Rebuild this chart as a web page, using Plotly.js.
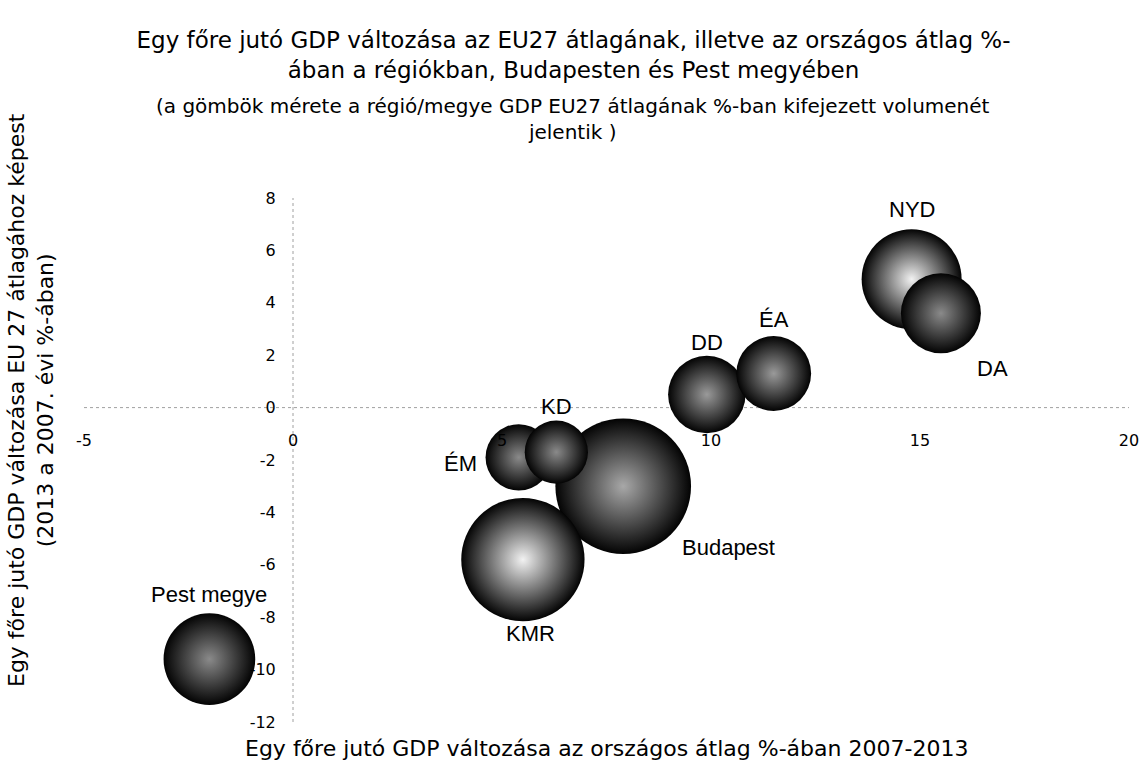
<!DOCTYPE html>
<html>
<head>
<meta charset="utf-8">
<script src="https://cdn.plot.ly/plotly-3.0.1.min.js"></script>
<style>
html,body{margin:0;padding:0;background:#fff;}
#chart{width:1147px;height:763px;}
</style>
</head>
<body>
<div id="chart"></div>
<script>
// ---- data (drawing order: later points are drawn on top) ----
const regions = ['Pest megye', 'Budapest', 'KMR', 'ÉM', 'KD', 'DD', 'ÉA', 'NYD', 'DA'];
const changeVsNational = [-2.0, 7.9, 5.5, 5.4, 6.3, 9.9, 11.5, 14.8, 15.5];   // x
const changeVsEU27 = [-9.6, -3.0, -5.8, -1.9, -1.7, 0.5, 1.3, 4.9, 3.6];       // y
const gdpVolume = [21, 46, 38, 11, 10, 15, 14, 25, 16];                          // bubble size
const xTickValues = [-5, 0, 5, 10, 15, 20];
const xTickLabels = ['-5', '0', '5', '10', '15', '20'];
const yTickValues = [-12, -10, -8, -6, -4, -2, 0, 2, 4, 6, 8];
const yTickLabels = ['-12', '-10', '-8', '-6', '-4', '-2', '0', '2', '4', '6', '8'];

// ---- styling ----
const xRange = [-5, 20];
const yRange = [-12, 8];
const labelShift = {            // pixel offsets of the data labels
  'Pest megye': [0, 65], 'Budapest': [105, -61], 'KMR': [8, -74], 'ÉM': [-58, -6],
  'KD': [0, 46], 'DD': [0, 52], 'ÉA': [0, 54], 'NYD': [0, 70], 'DA': [52, -55]
};
const highlight = {             // centre colour of each sphere's radial shading
  'Pest megye': '#8a8a8a', 'Budapest': '#a8a8a8', 'KMR': '#f2f2f2', 'ÉM': '#8a8a8a',
  'KD': '#8a8a8a', 'DD': '#9a9a9a', 'ÉA': '#9a9a9a', 'NYD': '#f2f2f2', 'DA': '#8a8a8a'
};
const FONT = '"DejaVu Sans", "Open Sans", sans-serif';

const trace = {
  type: 'scatter',
  mode: 'markers',
  x: changeVsNational,
  y: changeVsEU27,
  text: regions,
  hoverinfo: 'text+x+y',
  marker: {
    size: gdpVolume,
    sizemode: 'area',
    sizeref: 0.005,
    color: '#030303',
    opacity: 1,
    line: {width: 0},
    gradient: {type: 'radial', color: regions.map(r => highlight[r])}
  },
  showlegend: false
};

const labelAnnotations = regions.map((r, i) => ({
  x: changeVsNational[i], y: changeVsEU27[i], xref: 'x', yref: 'y',
  text: r, showarrow: false,
  xshift: labelShift[r][0], yshift: labelShift[r][1],
  font: {family: 'Liberation Sans, Arial, sans-serif', size: 22, color: '#000'}
}));

const x0pos = (0 - xRange[0]) / (xRange[1] - xRange[0]);
const y0pos = (0 - yRange[0]) / (yRange[1] - yRange[0]);

const layout = {
  width: 1147, height: 763,
  paper_bgcolor: '#fff', plot_bgcolor: '#fff',
  margin: {l: 84, r: 18, t: 198, b: 41},
  title: {
    text: 'Egy főre jutó GDP változása az EU27 átlagának, illetve az országos átlag %-<br>ában a régiókban, Budapesten és Pest megyében',
    font: {family: FONT, size: 23, color: '#000'},
    xref: 'container', x: 0.5, xanchor: 'center',
    yref: 'container', y: 0.937, yanchor: 'top'
  },
  xaxis: {
    range: xRange, anchor: 'free', position: y0pos,
    showgrid: false, zeroline: false, showline: false,
    tickmode: 'array', tickvals: xTickValues, ticktext: xTickLabels,
    ticks: 'outside', ticklen: 18, tickcolor: 'rgba(0,0,0,0)',
    tickfont: {family: FONT, size: 16, color: '#000'}
  },
  yaxis: {
    range: yRange, anchor: 'free', position: x0pos,
    showgrid: false, zeroline: false, showline: false,
    tickmode: 'array', tickvals: yTickValues, ticktext: yTickLabels,
    ticks: 'outside', ticklen: 14, tickcolor: 'rgba(0,0,0,0)',
    tickfont: {family: FONT, size: 16, color: '#000'}
  },
  shapes: [
    {type: 'line', xref: 'x', yref: 'y', x0: xRange[0], x1: xRange[1], y0: 0, y1: 0,
     line: {color: '#a0a0a0', width: 1, dash: 'dot'}, layer: 'below'},
    {type: 'line', xref: 'x', yref: 'y', x0: 0, x1: 0, y0: yRange[0], y1: yRange[1],
     line: {color: '#a0a0a0', width: 1, dash: 'dot'}, layer: 'below'}
  ],
  annotations: labelAnnotations.concat([
    {xref: 'paper', yref: 'paper', x: (573 - 84) / 1045, y: (722 - 119) / 524,
     xanchor: 'center', yanchor: 'middle', showarrow: false,
     text: '(a gömbök mérete a régió/megye GDP EU27 átlagának %-ban kifejezett volumenét<br>jelentik )',
     font: {family: FONT, size: 20, color: '#000'}},
    {xref: 'paper', yref: 'paper', x: 0.5, y: -0.05, xanchor: 'center', yanchor: 'middle',
     showarrow: false,
     text: 'Egy főre jutó GDP változása az országos átlag %-ában 2007-2013',
     font: {family: FONT, size: 22, color: '#000'}},
    {xref: 'paper', yref: 'paper', x: -0.05, y: 0.614, xanchor: 'center', yanchor: 'middle',
     textangle: -90, showarrow: false,
     text: 'Egy főre jutó GDP változása EU 27 átlagához képest<br>(2013 a 2007. évi %-ában)',
     font: {family: FONT, size: 22, color: '#000'}}
  ])
};

Plotly.newPlot('chart', [trace], layout, {displayModeBar: false, responsive: false});
</script>
</body>
</html>
